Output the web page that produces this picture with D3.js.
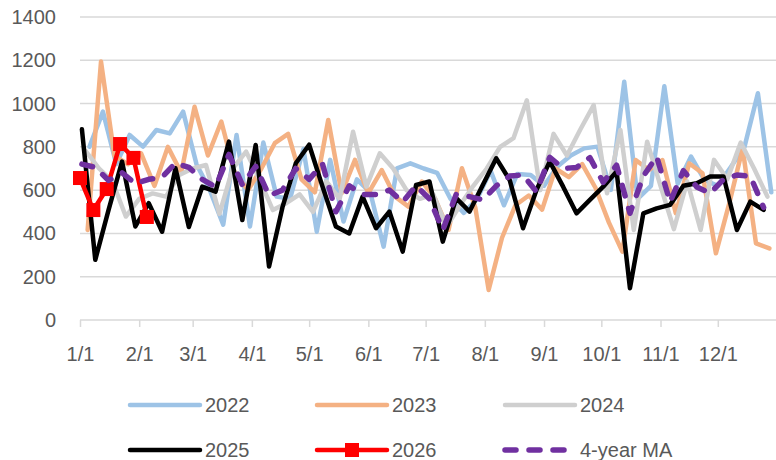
<!DOCTYPE html>
<html>
<head>
<meta charset="utf-8">
<script src="https://cdn.jsdelivr.net/npm/d3@7"></script>
<style>
    body { margin: 0; background: #fff; }
    svg text { font-family: "Liberation Sans", Arial, sans-serif; fill: #595959; }
</style>
</head>
<body>
<svg id="chart" width="776" height="460"></svg>
<script>
// weekly values
const years = ["2022", "2023", "2024", "2025", "2026", "4-year MA"];
const firstWeek = ["2022-01-06", "2023-01-05", "2024-01-04", "2025-01-02", "2026-01-01", "2025-01-02"];

const v2022 = [801, 963, 720, 855, 801, 878, 862, 963, 720, 600, 440, 855, 432, 820, 570, 560, 790, 408, 740, 455,
    650, 590, 339, 701, 724, 700, 680, 560, 495, 560, 690, 530, 675, 670, 620, 709, 760, 793, 801, 601,
    1101, 560, 620, 1080, 630, 755, 647, 620, 709, 801, 1048, 590];
const v2023 = [416, 1194, 760, 720, 770, 620, 800, 680, 985, 760, 917, 680, 600, 700, 817, 860, 650, 590, 924, 586,
    740, 586, 693, 570, 524, 640, 560, 416, 701, 520, 139, 380, 530, 575, 510, 700, 660, 720, 610, 450,
    316, 739, 693, 739, 493, 724, 678, 308, 539, 793, 354, 331];
const v2024 = [780, 700, 640, 478, 560, 585, 570, 670, 700, 716, 490, 700, 778, 650, 508, 540, 580, 500, 640, 560,
    870, 616, 770, 700, 600, 560, 580, 430, 530, 620, 700, 800, 840, 1015, 600, 860, 760, 880, 993, 586,
    878, 416, 824, 620, 420, 640, 416, 740, 650, 820, 700, 570];
const v2025 = [881, 278, 510, 732, 432, 540, 408, 701, 430, 616, 593, 824, 462, 809, 247, 520, 724, 810, 616, 432,
    400, 570, 424, 501, 316, 624, 640, 362, 563, 501, 625, 747, 647, 424, 600, 732, 616, 493, 555, 616,
    686, 147, 493, 516, 532, 620, 632, 663, 663, 416, 547, 509];
const v2026 = [656, 508, 605, 813, 749, 476];
const vMA = [720, 705, 645, 680, 630, 650, 660, 725, 705, 650, 615, 765, 625, 710, 575, 600, 700, 650, 720, 500,
    620, 580, 580, 600, 545, 620, 560, 416, 580, 570, 555, 620, 665, 670, 593, 752, 700, 705, 750, 636,
    715, 493, 665, 755, 545, 690, 615, 586, 650, 670, 665, 520];

const monthLabels = ["1/1", "2/1", "3/1", "4/1", "5/1", "6/1", "7/1", "8/1", "9/1", "10/1", "11/1", "12/1"];
const yTicks = [0, 200, 400, 600, 800, 1000, 1200, 1400];

const baseYear = 2026;
const parse = d3.timeParse("%Y-%m-%d");

// put a week of any year onto the same calendar year
function onBaseYear(start, i) {
    const d = d3.timeDay.offset(parse(start), 7 * i);
    const doy = d3.timeDay.count(d3.timeYear(d), d);
    return d3.timeDay.offset(new Date(baseYear, 0, 1), doy);
}

const styles = [
    { color: "#9DC3E6", width: 4.5 },
    { color: "#F4B183", width: 4.5 },
    { color: "#CFCFCF", width: 4.5 },
    { color: "#000000", width: 4.5 },
    { color: "#FF0000", width: 4.5, marker: true },
    { color: "#7030A0", width: 5.5, dash: "11,13" }
];

const values = [v2022, v2023, v2024, v2025, v2026, vMA];
const series = years.map((name, k) => ({
    name: name,
    style: styles[k],
    points: values[k].map((v, i) => ({ date: onBaseYear(firstWeek[k], i), value: v }))
}));

const svg = d3.select("#chart");

const x = d3.scaleTime()
    .domain([new Date(baseYear, 0, 1), new Date(baseYear + 1, 0, 1)])
    .range([80, 777]);
const y = d3.scaleLinear().domain([0, 1400]).range([320, 17]);

// gridlines
svg.append("g")
    .selectAll("line")
    .data(yTicks.filter(t => t > 0))
    .enter().append("line")
    .attr("x1", 80).attr("x2", 776)
    .attr("y1", d => y(d)).attr("y2", d => y(d))
    .attr("stroke", "#D9D9D9").attr("stroke-width", 1.5);

// y labels
svg.append("g")
    .selectAll("text")
    .data(yTicks)
    .enter().append("text")
    .attr("x", 56)
    .attr("y", d => y(d))
    .attr("dy", "0.35em")
    .attr("text-anchor", "end")
    .style("font-size", "20px")
    .text(d => d);

// x axis
const monthDates = monthLabels.map((l, i) => new Date(baseYear, i, 1));
const xAxis = d3.axisBottom(x)
    .tickValues(monthDates)
    .tickSize(7)
    .tickPadding(20)
    .tickFormat((d, i) => monthLabels[i]);

const gx = svg.append("g")
    .attr("transform", "translate(0,320)")
    .call(xAxis);
gx.select(".domain").attr("d", "M80,0H776").attr("stroke", "#D9D9D9").attr("stroke-width", 1.5);
gx.selectAll(".tick line").attr("stroke", "#D9D9D9").attr("stroke-width", 1.5);
gx.selectAll(".tick text")
    .style("font-size", "20px")
    .style("font-family", "Liberation Sans, Arial, sans-serif")
    .attr("fill", "#595959");

// lines
const line = d3.line()
    .x(d => x(d.date))
    .y(d => y(d.value));

const plot = svg.append("g");
series.forEach(s => {
    plot.append("path")
        .datum(s.points)
        .attr("d", line)
        .attr("fill", "none")
        .attr("stroke", s.style.color)
        .attr("stroke-width", s.style.width)
        .attr("stroke-linejoin", "round")
        .attr("stroke-linecap", "round")
        .attr("stroke-dasharray", s.style.dash || null);

    if (s.style.marker) {
        plot.append("g")
            .selectAll("rect")
            .data(s.points)
            .enter().append("rect")
            .attr("x", d => x(d.date) - 7)
            .attr("y", d => y(d.value) - 7)
            .attr("width", 14).attr("height", 14)
            .attr("fill", s.style.color);
    }
});

// legend, 3 per row
const legend = svg.append("g");
const colX = [130, 317, 505];
const rowY = [405, 450];
series.forEach((s, k) => {
    const lx = colX[k % 3];
    const ly = rowY[Math.floor(k / 3)];
    const g = legend.append("g").attr("transform", `translate(${lx},${ly})`);
    g.append("line")
        .attr("x1", 0).attr("x2", 70)
        .attr("stroke", s.style.color)
        .attr("stroke-width", s.style.width)
        .attr("stroke-linecap", "round")
        .attr("stroke-dasharray", s.style.dash || null);
    if (s.style.marker) {
        g.append("rect")
            .attr("x", 28).attr("y", -7)
            .attr("width", 14).attr("height", 14)
            .attr("fill", s.style.color);
    }
    g.append("text")
        .attr("x", 75)
        .attr("dy", "0.35em")
        .style("font-size", "20px")
        .text(s.name);
});
</script>
</body>
</html>
